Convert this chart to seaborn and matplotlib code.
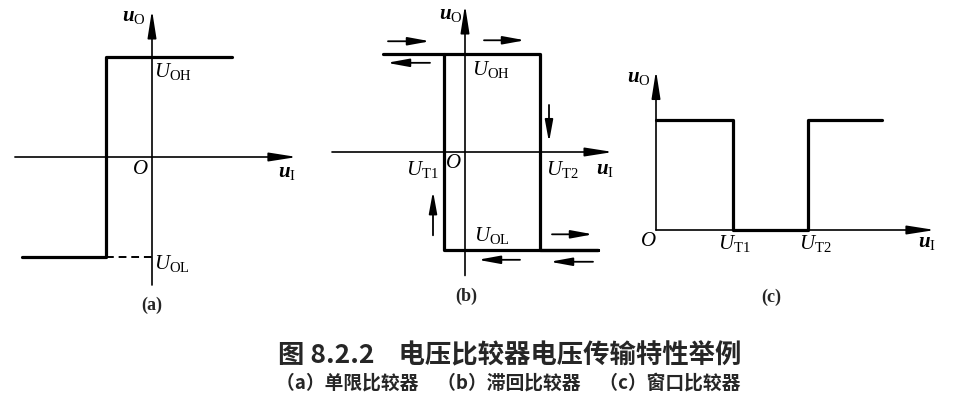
import matplotlib
matplotlib.use("Agg")
import matplotlib.pyplot as plt
import seaborn as sns
import pandas as pd

# ---------------- data ----------------
# (a) single-threshold comparator
a_ui = [-2.83, -1.0, -1.0, 1.74]
a_uo = [-1.0, -1.0, 1.0, 1.0]
a_dash_ui = [-1.0, 0.0]
a_dash_uo = [-1.0, -1.0]
# (b) hysteresis comparator
b_ui = [-3.3, 3.0, 3.0, 5.3, -0.85, -0.85]
b_uo = [1.0, 1.0, -1.0, -1.0, -1.0, 1.0]
# direction arrows of (b): (x_from, y_from, x_to, y_to)
b_arrows = [(-3.08, 1.13, -1.40, 1.13), (-1.40, 0.91, -3.12, 0.91),
            (0.76, 1.14, 2.40, 1.14), (3.36, 0.48, 3.36, 0.10),
            (-1.28, -0.85, -1.28, -0.40), (3.48, -0.84, 5.12, -0.84),
            (5.12, -1.12, 3.40, -1.12), (2.20, -1.10, 0.52, -1.10)]
# (c) window comparator
c_ui = [0.0, 2.03, 2.03, 4.0, 4.0, 5.95]
c_uo = [1.0, 1.0, 0.0, 0.0, 1.0, 1.0]

title = "图 8.2.2    电压比较器电压传输特性举例"
subtitle = "（a）单限比较器　（b）滞回比较器　（c）窗口比较器"

# ---------------- style ----------------
sns.set_theme(style="white")
plt.rcParams['font.family'] = ['Liberation Serif', 'Noto Sans CJK SC', 'DejaVu Sans']
plt.rcParams['mathtext.fontset'] = 'custom'
plt.rcParams['mathtext.rm'] = 'Liberation Serif'
plt.rcParams['mathtext.it'] = 'Liberation Serif:italic'
plt.rcParams['mathtext.bf'] = 'Liberation Serif:bold'
plt.rcParams['mathtext.bfit'] = 'Liberation Serif:italic:bold'

W, H = 955, 417
fig = plt.figure(figsize=(W / 100, H / 100), dpi=100)
fig.patch.set_facecolor('white')

CURVE_LW = 2.3
AXIS_LW = 1.2
LAB = 15


def panel(box, origin, scale):
    l, t, r, b = box
    ax = fig.add_axes([l / W, 1 - b / H, (r - l) / W, (b - t) / H])
    x0, y0 = origin
    sx, sy = scale
    ax.set_xlim((l - x0) / sx, (r - x0) / sx)
    ax.set_ylim((y0 - b) / sy, (y0 - t) / sy)
    ax.set_axis_off()
    ax.patch.set_visible(False)
    return ax


def axis_arrow(ax, x1, y1, x2, y2):
    ax.annotate('', xy=(x2, y2), xytext=(x1, y1),
                arrowprops=dict(arrowstyle='-|>,head_length=1.4,head_width=0.22',
                                mutation_scale=12, lw=AXIS_LW, color='black',
                                shrinkA=0, shrinkB=0))


def small_arrow(ax, x1, y1, x2, y2):
    ax.annotate('', xy=(x2, y2), xytext=(x1, y1),
                arrowprops=dict(arrowstyle='-|>,head_length=1.2,head_width=0.22',
                                mutation_scale=11, lw=1.3, color='black',
                                shrinkA=0, shrinkB=0))


def curve(ax, xs, ys, ls='-', lw=CURVE_LW):
    df = pd.DataFrame({'u_I': xs, 'u_O': ys})
    sns.lineplot(data=df, x='u_I', y='u_O', sort=False, estimator=None,
                 ax=ax, color='black', lw=lw, linestyle=ls)
    ax.set_axis_off()


def lab(ax, x, y, s, size=LAB, ha='center'):
    ax.text(x, y, s, ha=ha, va='center', fontsize=size, color='black')


def plab(ax, x, y, s):
    ax.text(x, y, s, ha='center', va='center', fontsize=13, fontweight='bold')


# ---------------- panel (a) ----------------
ax = panel((0, 0, 320, 320), (152, 157), (46, 100))
axis_arrow(ax, -2.98, 0, 3.15, 0)
axis_arrow(ax, 0, -1.28, 0, 1.47)
curve(ax, a_ui, a_uo)
curve(ax, a_dash_ui, a_dash_uo, ls=(0, (4, 2.5)), lw=1.4)
lab(ax, -0.39, 1.41, r'$\mathbfit{u}_{\mathrm{O}}$')
lab(ax, 0.05, 0.86, r'$U_{\mathrm{OH}}$', ha='left')
lab(ax, -0.26, -0.13, r'$O$')
lab(ax, 2.93, -0.15, r'$\mathbfit{u}_{\mathrm{I}}$')
lab(ax, 0.05, -1.06, r'$U_{\mathrm{OL}}$', ha='left')
plab(ax, 0, -1.48, '(a)')

# ---------------- panel (b) ----------------
ax = panel((320, 0, 630, 320), (465, 152), (25, 98))
axis_arrow(ax, -5.32, 0, 5.92, 0)
axis_arrow(ax, 0, -1.26, 0, 1.50)
curve(ax, b_ui, b_uo)
for x1, y1, x2, y2 in b_arrows:
    small_arrow(ax, x1, y1, x2, y2)
lab(ax, -0.56, 1.40, r'$\mathbfit{u}_{\mathrm{O}}$')
lab(ax, 0.28, 0.84, r'$U_{\mathrm{OH}}$', ha='left')
lab(ax, -1.72, -0.18, r'$U_{\mathrm{T1}}$')
lab(ax, -0.48, -0.12, r'$O$')
lab(ax, 3.88, -0.18, r'$U_{\mathrm{T2}}$')
lab(ax, 5.60, -0.18, r'$\mathbfit{u}_{\mathrm{I}}$')
lab(ax, 0.36, -0.85, r'$U_{\mathrm{OL}}$', ha='left')
plab(ax, 0.04, -1.47, '(b)')

# ---------------- panel (c) ----------------
ax = panel((630, 40, 955, 320), (656, 230), (38, 110))
axis_arrow(ax, 0, 0, 7.34, 0)
axis_arrow(ax, 0, 0, 0, 1.45)
curve(ax, c_ui, c_uo)
lab(ax, -0.45, 1.39, r'$\mathbfit{u}_{\mathrm{O}}$')
lab(ax, -0.21, -0.10, r'$O$')
lab(ax, 2.05, -0.12, r'$U_{\mathrm{T1}}$')
lab(ax, 4.18, -0.12, r'$U_{\mathrm{T2}}$')
lab(ax, 7.13, -0.11, r'$\mathbfit{u}_{\mathrm{I}}$')
plab(ax, 3.03, -0.61, '(c)')

# ---------------- captions ----------------
fig.text(510 / W, 1 - 356 / H, title, ha='center', va='center', fontsize=19,
         fontweight='bold', family=['Noto Sans CJK SC', 'DejaVu Sans'])
fig.text(508 / W, 1 - 383 / H, subtitle, ha='center', va='center', fontsize=13.5,
         fontweight='bold', family=['Noto Sans CJK SC', 'DejaVu Sans'])

fig.savefig('out.png', dpi=100, facecolor='white')
